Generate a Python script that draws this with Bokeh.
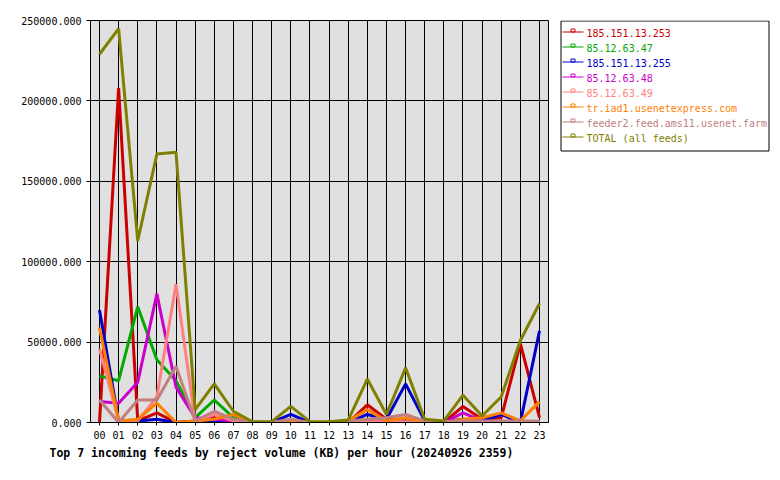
from bokeh.plotting import figure
from bokeh.models import FixedTicker, PrintfTickFormatter, Range1d, Title
from bokeh.layouts import row
from bokeh.core.properties import value
from bokeh.embed import file_html
from bokeh.resources import INLINE

hours = list(range(24))
hour_labels = ["%02d" % h for h in hours]

series_names = [
    "185.151.13.253",
    "85.12.63.47",
    "185.151.13.255",
    "85.12.63.48",
    "85.12.63.49",
    "tr.iad1.usenetexpress.com",
    "feeder2.feed.ams11.usenet.farm",
    "TOTAL (all feeds)",
]
series_colors = ["#CC0000", "#00AA00", "#0000CC", "#CC00CC", "#FF8080", "#FF8000", "#C08080", "#808000"]

red_253 = [0, 208000, 1000, 6000, 0, 1000, 3000, 2000, 0, 0, 1000, 0,
           0, 0, 11000, 2000, 1000, 500, 0, 10000, 2000, 3000, 49000, 3000]
green_47 = [29000, 26000, 72000, 39000, 26000, 3000, 14000, 3000, 0, 0, 1000, 0,
            0, 0, 1000, 500, 1000, 0, 0, 1000, 500, 500, 500, 500]
blue_255 = [70000, 1000, 1000, 2000, 0, 500, 1000, 1000, 0, 0, 5000, 0,
            0, 0, 5000, 2000, 24000, 1000, 500, 2000, 1000, 5000, 0, 57000]
magenta_48 = [13000, 12000, 25000, 80000, 22000, 3000, 2000, 1000, 0, 0, 500, 0,
              0, 0, 1000, 500, 500, 0, 0, 6000, 1000, 500, 500, 500]
salmon_49 = [46000, 1000, 1000, 16000, 86000, 1000, 5000, 1000, 0, 0, 500, 0,
             0, 0, 500, 500, 500, 0, 0, 500, 500, 500, 500, 500]
orange_iad1 = [59000, 1000, 2000, 12000, 0, 1000, 2000, 5000, 0, 0, 1000, 0,
               0, 1000, 8000, 1000, 3000, 500, 0, 2000, 3000, 6000, 1000, 13000]
brown_ams11 = [14000, 0, 14000, 14000, 35000, 1000, 7000, 2000, 500, 0, 2000, 0,
               0, 1000, 2000, 3000, 5000, 1000, 500, 1000, 1000, 1000, 1000, 1000]
total_all = [229000, 245000, 113000, 167000, 168000, 8000, 24000, 7000, 500, 500, 10000, 500,
             500, 1500, 27000, 5000, 34000, 2000, 1000, 17000, 4000, 16000, 51000, 74000]

series_values = [red_253, green_47, blue_255, magenta_48, salmon_49, orange_iad1, brown_ams11, total_all]

y_ticks = [0, 50000, 100000, 150000, 200000, 250000]
title_text = "Top 7 incoming feeds by reject volume (KB) per hour (20240926 2359)"

FONT = "DejaVu Sans Mono"

p = figure(width=550, height=480, output_backend="svg", toolbar_location=None,
           x_range=Range1d(-0.47, 23.47), y_range=Range1d(0, 250000),
           min_border_left=90, min_border_right=2, min_border_top=20, min_border_bottom=58)
p.background_fill_color = "#E0E0E0"
p.border_fill_color = "white"
p.outline_line_color = "black"
p.outline_line_width = 1

for vals, col in zip(series_values, series_colors):
    p.line(hours, vals, line_width=3, line_color=col)

p.xaxis.ticker = FixedTicker(ticks=hours)
p.xaxis.major_label_overrides = {h: lab for h, lab in zip(hours, hour_labels)}
p.yaxis.ticker = FixedTicker(ticks=y_ticks)
p.yaxis.formatter = PrintfTickFormatter(format="%.3f")
for ax in (p.xaxis[0], p.yaxis[0]):
    ax.axis_line_color = "black"
    ax.major_tick_line_color = "black"
    ax.minor_tick_line_color = None
    ax.major_tick_in = 0
    ax.major_label_text_font = FONT
    ax.major_label_text_font_size = "10px"
    ax.major_label_text_color = "black"
p.xaxis.major_tick_out = 3
p.xaxis.major_label_standoff = 5
p.yaxis.major_tick_out = 4
p.yaxis.major_label_standoff = 5

p.xgrid.ticker = FixedTicker(ticks=hours)
p.ygrid.ticker = FixedTicker(ticks=y_ticks)
for g in (p.xgrid[0], p.ygrid[0]):
    g.grid_line_color = "black"
    g.grid_line_width = 1
    g.grid_line_alpha = 1.0

p.add_layout(Title(text=title_text, align="left", offset=-41, standoff=4,
                   text_font=FONT, text_font_size="11.5px", text_font_style="bold",
                   text_color="black"), "below")

# legend panel as a separate figure; its frame is aligned with the main frame (y 20..422)
leg = figure(width=230, height=480, output_backend="svg", toolbar_location=None,
             x_range=Range1d(550, 780), y_range=Range1d(422, 20),
             x_axis_location=None, y_axis_location=None,
             min_border_left=0, min_border_right=0, min_border_top=20, min_border_bottom=58)
leg.outline_line_color = None
leg.background_fill_color = "white"
leg.border_fill_color = "white"
leg.xgrid.visible = False
leg.ygrid.visible = False

row_y = [31 + 15 * i for i in range(len(series_names))]
leg.quad(left=[560.5], right=[768.5], top=[20.5], bottom=[150.5],
         fill_color="white", line_color="black", line_width=1)
leg.segment(x0=[562] * len(row_y), x1=[583] * len(row_y), y0=[y + 0.5 for y in row_y],
            y1=[y + 0.5 for y in row_y], line_color=series_colors, line_width=1)
leg.quad(left=[570.5] * len(row_y), right=[574.5] * len(row_y),
         top=[y - 2.5 for y in row_y], bottom=[y + 0.5 for y in row_y],
         fill_color="white", fill_alpha=0.0, line_color=series_colors, line_width=1)
leg.text(x=[586] * len(row_y), y=[y + 1.5 for y in row_y], text=series_names,
         text_color=series_colors, text_font=value(FONT), text_font_size="10px",
         text_baseline="middle", text_align="left")

layout = row(p, leg, spacing=0)
open("out.html", "w").write(file_html(layout, INLINE))
